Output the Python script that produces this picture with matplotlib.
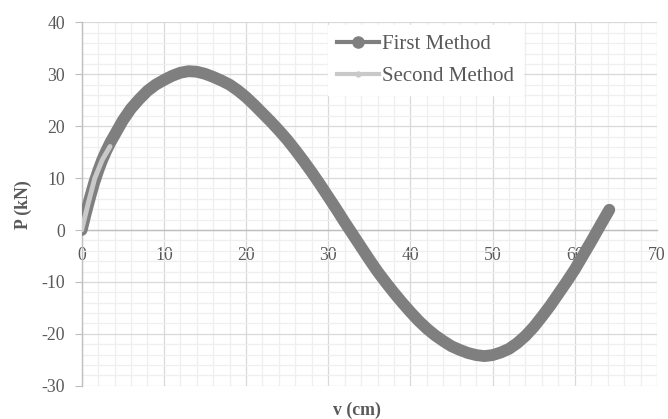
import numpy as np
import matplotlib.pyplot as plt
from matplotlib.lines import Line2D
from matplotlib.ticker import MultipleLocator

# First Method
v_first = [0, 0.5, 1, 1.5, 2, 2.5, 3, 3.5, 4, 5, 6, 7, 8, 9, 10, 11, 12, 13, 14, 15,
           16, 17, 18, 19, 20, 21, 22, 23, 24, 25, 26, 27, 28, 29, 30, 31, 32, 33, 34,
           35, 36, 37, 38, 39, 40, 41, 42, 43, 44, 45, 46, 47, 48, 49, 50, 51, 52, 53,
           54, 55, 56, 57, 58, 59, 60, 61, 62, 63, 64.2]
p_first = [0, 3.2, 6.2, 9.0, 11.4, 13.5, 15.3, 16.9, 18.3, 21.1, 23.4, 25.2, 26.8, 28.0,
           28.9, 29.7, 30.3, 30.6, 30.5, 30.1, 29.5, 28.8, 28.0, 26.9, 25.6, 24.1, 22.5,
           20.9, 19.2, 17.4, 15.4, 13.3, 11.1, 8.8, 6.4, 4.0, 1.5, -0.9, -3.3, -5.7, -8.0,
           -10.1, -12.1, -14.0, -15.8, -17.5, -19.0, -20.3, -21.4, -22.4, -23.1, -23.7,
           -24.1, -24.3, -24.1, -23.6, -22.9, -21.8, -20.4, -18.7, -16.7, -14.6, -12.3,
           -10.0, -7.6, -4.9, -2.2, 0.6, 3.9]

# Second Method
v_second = [0, 0.8, 1.6, 2.5, 3.45]
p_second = [0, 5.2, 10, 13.5, 16.1]

labels = ['First Method', 'Second Method']
x_ticks = [0, 10, 20, 30, 40, 50, 60, 70]
y_ticks = [-30, -20, -10, 0, 10, 20, 30, 40]

DARK = '#7f7f7f'
LIGHT = '#c9c9c9'
TEXT = '#595959'

plt.rcParams['font.family'] = ['Liberation Serif', 'DejaVu Serif']
plt.rcParams['axes.unicode_minus'] = False

fig = plt.figure(figsize=(6.68, 4.19), dpi=100)
ax = fig.add_axes([0.1223, 0.0795, 0.8612, 0.867])

ax.plot(v_first, p_first, color=DARK, lw=8.5, solid_capstyle='round',
        solid_joinstyle='round', zorder=3)
ax.plot(v_second, p_second, color=LIGHT, lw=3.5, solid_capstyle='round', zorder=4)

ax.set_xlim(0, 70)
ax.set_ylim(-30, 40)
ax.set_xticks(x_ticks)
ax.set_yticks(y_ticks)
ax.xaxis.set_minor_locator(MultipleLocator(2))
ax.yaxis.set_minor_locator(MultipleLocator(2))
ax.grid(which='major', color='#d9d9d9', lw=0.9, zorder=1)
ax.grid(which='minor', color='#efefef', lw=0.9, zorder=0)
ax.set_axisbelow(True)

for s in ['top', 'right']:
    ax.spines[s].set_visible(False)
ax.spines['bottom'].set_position(('data', 0))
for s in ['bottom', 'left']:
    ax.spines[s].set_color('#bfbfbf')
    ax.spines[s].set_linewidth(1)

ax.tick_params(axis='y', which='major', length=5, color='#bfbfbf', labelsize=12.8,
               labelcolor=TEXT, pad=7)
ax.tick_params(axis='x', which='major', length=0, labelsize=12.8, labelcolor=TEXT, pad=12)
ax.tick_params(which='minor', length=0)

fig.text(357 / 668, 1 - 410 / 419, 'v (cm)', fontsize=12.8, fontweight='bold',
         color=TEXT, ha='center', va='center')
fig.text(23 / 668, 1 - 205 / 419, 'P (kN)', fontsize=12.8, fontweight='bold',
         color=TEXT, ha='center', va='center', rotation=90)

handles = [Line2D([], [], color=DARK, lw=3, marker='o', markersize=8),
           Line2D([], [], color=LIGHT, lw=3, marker='o', markersize=3.5)]
leg = ax.legend(handles, labels, loc='upper left', bbox_to_anchor=(0.428, 0.993),
                borderaxespad=0, fontsize=15, frameon=True, fancybox=False,
                handlelength=2.0, handletextpad=0.15, borderpad=0.45, labelspacing=0.6)
leg.get_frame().set_edgecolor('white')
leg.get_frame().set_facecolor('white')
leg.get_frame().set_alpha(1)
for t in leg.get_texts():
    t.set_color(TEXT)

plt.savefig('out.png', dpi=100, facecolor='white')
